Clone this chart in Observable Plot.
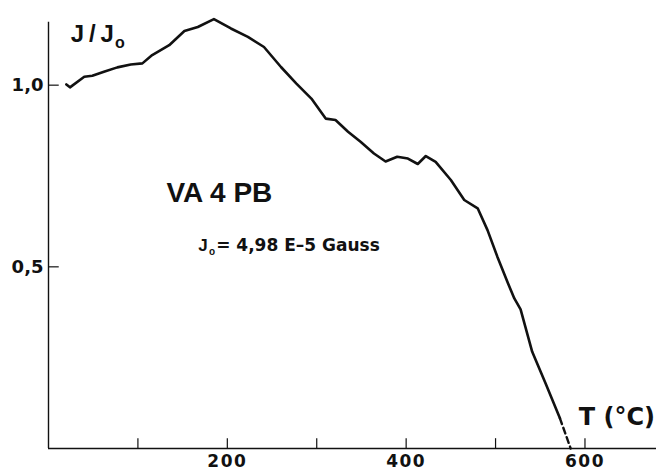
<!DOCTYPE html>
<html>
<head>
<meta charset="utf-8">
<script src="https://cdn.jsdelivr.net/npm/d3@7"></script>
<script src="https://cdn.jsdelivr.net/npm/@observablehq/plot@0.6"></script>
<style>
  html, body { margin: 0; padding: 0; background: #fff; }
  #chart svg { display: block; }
</style>
</head>
<body>
<div id="chart"></div>
<script>
// Temperature (°C) and normalized intensity J/Jo
const temps = [20, 24, 40, 49, 62, 77, 92, 105, 116, 135, 152, 167, 185, 204, 223, 241, 260, 277, 294, 310, 321, 335, 349, 364, 377, 390, 402, 413, 422, 433, 450, 465, 480, 491, 502, 514, 521, 528, 541, 556, 572];
const ratios = [1.002, 0.994, 1.023, 1.026, 1.037, 1.049, 1.057, 1.060, 1.083, 1.110, 1.149, 1.160, 1.182, 1.156, 1.133, 1.105, 1.050, 1.005, 0.963, 0.908, 0.904, 0.872, 0.844, 0.812, 0.790, 0.803, 0.798, 0.783, 0.805, 0.789, 0.739, 0.684, 0.661, 0.601, 0.528, 0.454, 0.413, 0.383, 0.266, 0.179, 0.083];
// dashed extrapolation to zero
const extrapTemps = [572, 584];
const extrapRatios = [0.083, 0];

const xTickValues = [100, 200, 300, 400, 500, 600];
const xTickLabels = [200, 400, 600];
const yTickValues = [0.5, 1.0];

const solid = temps.map((t, i) => ({t, r: ratios[i]}));
const dashed = extrapTemps.map((t, i) => ({t, r: extrapRatios[i]}));

const BOLD_H = "'Liberation Sans', Arial, Helvetica, sans-serif";
const BOLD_D = "'DejaVu Sans', Verdana, sans-serif";

const chart = Plot.plot({
  width: 656,
  height: 471,
  marginLeft: 48,
  marginRight: 0,
  marginTop: 12,
  marginBottom: 23,
  style: {background: "#fff", color: "#111", fontFamily: BOLD_H},
  x: {domain: [0, 680], label: null},
  y: {domain: [0, 1.2], label: null},
  marks: [
    // axis lines
    Plot.ruleY([0], {x1: 0, x2: 680, stroke: "#111", strokeWidth: 1.4}),
    Plot.ruleX([0], {y1: 0, y2: 1.173, stroke: "#111", strokeWidth: 1.4}),
    // inward ticks
    Plot.ruleX(xTickValues, {x: d => d, y1: 0, y2: 0.027, stroke: "#111", strokeWidth: 1.2}),
    Plot.ruleY(yTickValues, {y: d => d, x1: 0, x2: 12, stroke: "#111", strokeWidth: 1.2}),
    // tick labels
    Plot.axisX(xTickLabels, {tickSize: 0, tickPadding: 6, fontSize: 17, fontWeight: "bold", fontFamily: BOLD_D, fill: "#111", label: null}),
    Plot.axisY(yTickValues, {tickSize: 0, tickPadding: 5, fontSize: 18, fontWeight: "bold", fontFamily: BOLD_D, fill: "#111", label: null,
      tickFormat: d => d.toFixed(1).replace(".", ",")}),
    // curve
    Plot.line(solid, {x: "t", y: "r", stroke: "#111", strokeWidth: 2.6, strokeLinejoin: "round", strokeLinecap: "round"}),
    Plot.line(dashed, {x: "t", y: "r", stroke: "#111", strokeWidth: 2.4, strokeDasharray: "6,4"}),
    // annotations
    Plot.text(["J\u2009/\u2009J"], {x: 25, y: 1.118, text: d => d, textAnchor: "start", lineAnchor: "bottom", fontSize: 24, fontWeight: "bold", fontFamily: BOLD_H, fill: "#111"}),
    Plot.text(["o"], {x: 74.5, y: 1.103, text: d => d, textAnchor: "start", lineAnchor: "bottom", fontSize: 16, fontWeight: "bold", fontFamily: BOLD_H, fill: "#111"}),
    Plot.text(["VA 4 PB"], {x: 132, y: 0.678, text: d => d, textAnchor: "start", lineAnchor: "bottom", fontSize: 28, fontWeight: "bold", fontFamily: BOLD_H, fill: "#111"}),
    Plot.text(["J"], {x: 167.5, y: 0.543, text: d => d, textAnchor: "start", lineAnchor: "bottom", fontSize: 17, fontWeight: "bold", fontFamily: BOLD_H, fill: "#111"}),
    Plot.text(["o"], {x: 179.5, y: 0.533, text: d => d, textAnchor: "start", lineAnchor: "bottom", fontSize: 10, fontWeight: "bold", fontFamily: BOLD_H, fill: "#111"}),
    Plot.text(["= 4,98 E\u20135 Gauss"], {x: 187.5, y: 0.543, text: d => d, textAnchor: "start", lineAnchor: "bottom", fontSize: 17, fontWeight: "bold", fontFamily: BOLD_D, fill: "#111"}),
    Plot.text(["T (°C)"], {x: 593, y: 0.064, text: d => d, textAnchor: "start", lineAnchor: "bottom", fontSize: 24, fontWeight: "bold", fontFamily: BOLD_D, fill: "#111"})
  ]
});
document.getElementById("chart").appendChild(chart);
d3.select(chart).selectAll('g[aria-label="x-axis tick label"] text').style("letter-spacing", "1.5px");
</script>
</body>
</html>
